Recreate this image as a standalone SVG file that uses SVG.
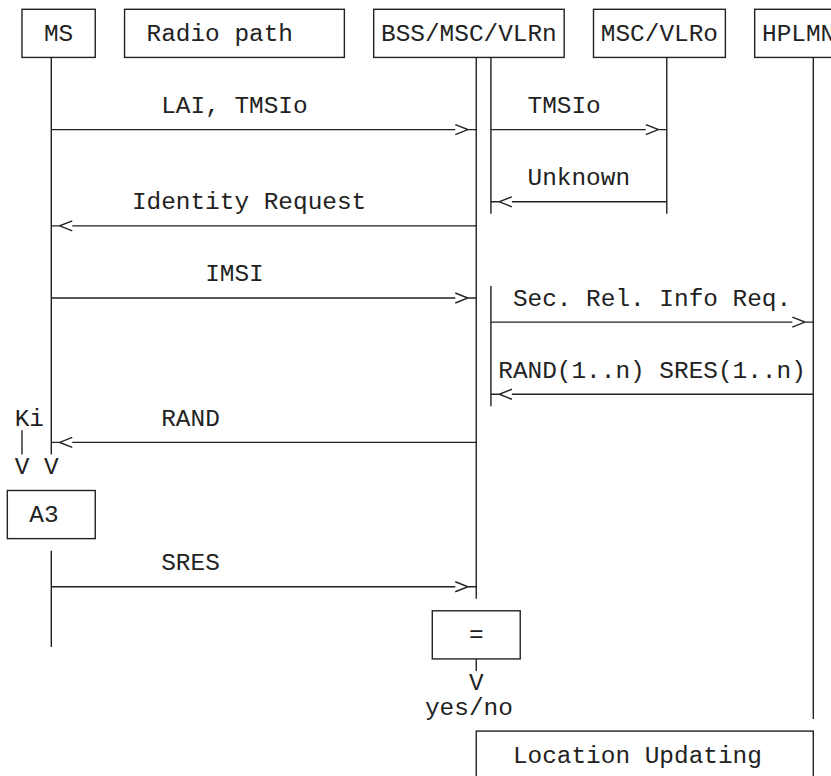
<svg xmlns="http://www.w3.org/2000/svg" width="831" height="776" viewBox="0 0 831 776">
<style>
  text { font-family: "Liberation Mono", "Courier New", monospace; font-size: 24.42px; fill: #222; }
  .box { fill: none; stroke: #222; stroke-width: 1.4; }
  .ln { fill: none; stroke: #222; stroke-width: 1.4; }
</style>
<rect width="831" height="776" fill="#fff"/>
<g id="node-ms">
  <rect class="box" x="21.98" y="9.3" width="73.27" height="48.12"/>
  <text x="43.96" y="40.86">MS</text>
</g>
<g id="node-radio">
  <rect class="box" x="124.56" y="9.3" width="219.81" height="48.12"/>
  <text x="146.54" y="40.86">Radio path</text>
</g>
<g id="node-bss">
  <rect class="box" x="373.68" y="9.3" width="190.5" height="48.12"/>
  <text x="381.0" y="40.86">BSS/MSC/VLRn</text>
</g>
<g id="node-vlro">
  <rect class="box" x="593.49" y="9.3" width="131.89" height="48.12"/>
  <text x="600.81" y="40.86">MSC/VLRo</text>
</g>
<g id="node-hplmn">
  <rect class="box" x="754.68" y="9.3" width="160" height="48.12"/>
  <text x="762.0" y="40.86">HPLMN</text>
</g>
<g id="node-a3">
  <rect class="box" x="7.33" y="490.5" width="87.92" height="48.12"/>
  <text x="29.31" y="522.06">A3</text>
</g>
<g id="node-eq">
  <rect class="box" x="432.29" y="610.8" width="87.93" height="48.12"/>
  <text x="468.93" y="642.36">=</text>
</g>
<g id="node-lu">
  <rect class="box" x="476.26" y="731.1" width="337.04" height="48.12"/>
  <text x="512.89" y="762.66">Location Updating</text>
</g>
<g id="lifelines">
  <path class="ln" d="M51.29 57.42 V454.41 M51.29 550.65 V646.89"/>
  <path class="ln" d="M476.26 57.42 V598.77"/>
  <path class="ln" d="M490.91 57.42 V213.81 M490.91 286.0 V406.29"/>
  <path class="ln" d="M666.76 57.42 V213.81"/>
  <path class="ln" d="M813.3 57.42 V719.07"/>
  <path class="ln" d="M476.26 658.92 V670.95"/>
  <path class="ln" d="M21.98 430.35 V454.41"/>
</g>
<g id="connectors">
  <path class="ln" d="M51.29 129.6 H455.27 M455.27 124.6 L467.93 129.6 L455.27 134.6 M467.93 129.6 H476.26"/>
  <path class="ln" d="M490.91 129.6 H645.78 M645.78 124.6 L658.43 129.6 L645.78 134.6 M658.43 129.6 H666.76"/>
  <path class="ln" d="M666.76 201.78 H511.89 M511.89 196.78 L499.24 201.78 L511.89 206.78 M499.24 201.78 H490.91"/>
  <path class="ln" d="M476.26 225.84 H72.27 M72.27 220.84 L59.62 225.84 L72.27 230.84 M59.62 225.84 H51.29"/>
  <path class="ln" d="M51.29 298.02 H455.27 M455.27 293.02 L467.93 298.02 L455.27 303.02 M467.93 298.02 H476.26"/>
  <path class="ln" d="M490.91 322.08 H792.32 M792.32 317.08 L804.97 322.08 L792.32 327.08 M804.97 322.08 H813.3"/>
  <path class="ln" d="M813.3 394.26 H511.89 M511.89 389.26 L499.24 394.26 L511.89 399.26 M499.24 394.26 H490.91"/>
  <path class="ln" d="M476.26 442.38 H72.27 M72.27 437.38 L59.62 442.38 L72.27 447.38 M59.62 442.38 H51.29"/>
  <path class="ln" d="M51.29 586.74 H455.27 M455.27 581.74 L467.93 586.74 L455.27 591.74 M467.93 586.74 H476.26"/>
</g>
<g id="labels">
  <text x="161.19" y="113.04">LAI, TMSIo</text>
  <text x="527.54" y="113.04">TMSIo</text>
  <text x="527.54" y="185.22">Unknown</text>
  <text x="131.89" y="209.28">Identity Request</text>
  <text x="205.16" y="281.46">IMSI</text>
  <text x="512.89" y="305.52">Sec. Rel. Info Req.</text>
  <text x="498.24" y="377.7">RAND(1..n) SRES(1..n)</text>
  <text x="161.19" y="425.82">RAND</text>
  <text x="14.65" y="425.82">Ki</text>
  <text x="14.65" y="473.94">V</text>
  <text x="43.96" y="473.94">V</text>
  <text x="161.19" y="570.18">SRES</text>
  <text x="468.93" y="690.48">V</text>
  <text x="424.97" y="714.54">yes/no</text>
</g>
</svg>
